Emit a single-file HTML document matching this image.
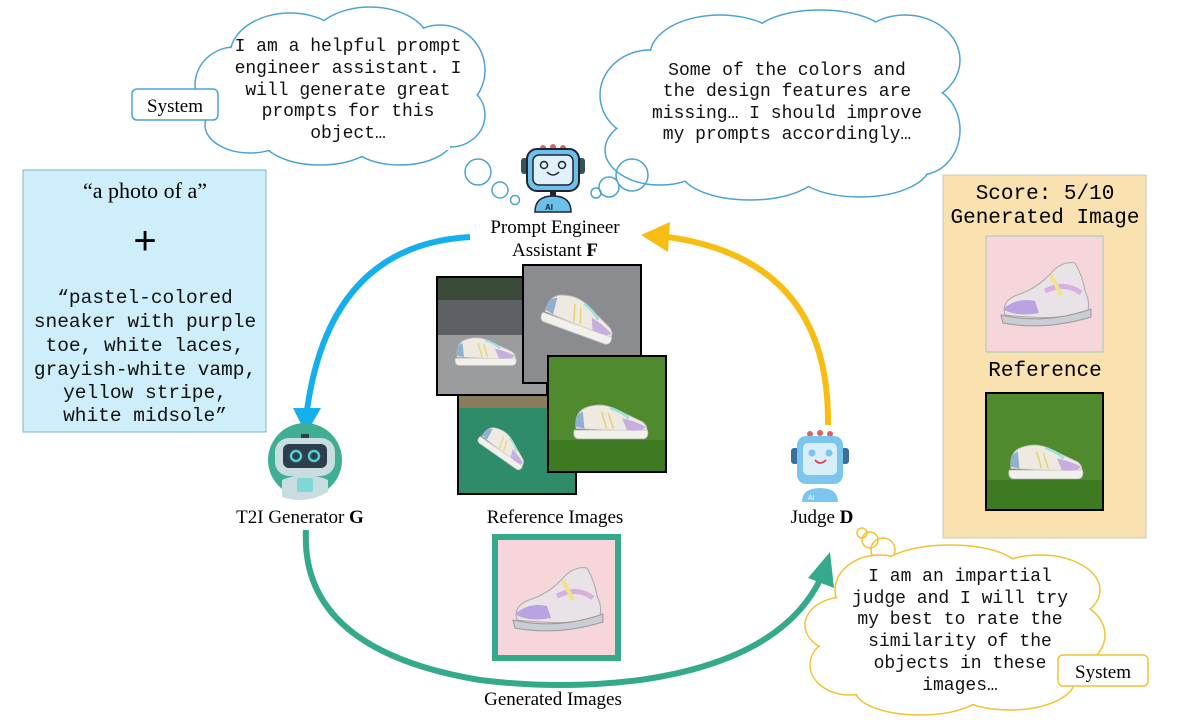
<!DOCTYPE html>
<html><head><meta charset="utf-8"><style>
html,body{margin:0;padding:0;background:#fff;width:1200px;height:720px;overflow:hidden}
.m{font-family:"Liberation Mono",monospace}
.s{font-family:"Liberation Serif",serif}
</style></head><body>
<svg width="1200" height="720" viewBox="0 0 1200 720" xmlns="http://www.w3.org/2000/svg">
<defs>
<g id="shoe">
 <path d="M-40,10 Q-42,-8 -30,-14 Q-10,-22 8,-12 Q25,-4 38,2 Q46,8 42,14 Z" fill="#eeeae2" stroke="#bbb" stroke-width="1"/>
 <path d="M-42,12 L44,12 Q46,20 40,22 L-38,22 Q-44,20 -42,12Z" fill="#f2f0ea" stroke="#ccc" stroke-width="1"/>
 <path d="M14,-2 Q32,2 42,8 Q40,14 20,12 Z" fill="#c7aee0"/>
 <path d="M-40,8 Q-42,-6 -32,-10 L-30,10Z" fill="#8fb0cf"/>
 <path d="M-10,-10 L-4,10 M-2,-8 L4,10" stroke="#e6d67a" stroke-width="2"/>
 <path d="M0,-14 Q14,-10 22,-2" stroke="#9fe0d8" stroke-width="3" fill="none"/>
</g>
<g id="gshoe">
 <path d="M-40,18 Q-44,4 -28,-2 Q-8,-8 8,-26 Q18,-36 30,-34 Q38,-20 40,-6 Q46,6 42,16 Q10,24 -40,18Z" fill="#e9e2e6" stroke="#aaa" stroke-width="1"/>
 <path d="M-42,12 Q-28,0 -10,4 L-6,16 Q-30,20 -42,12Z" fill="#b9a3e0"/>
 <path d="M-44,18 Q0,28 46,12 L46,20 Q0,34 -42,26Z" fill="#c9cdd4" stroke="#999" stroke-width="1"/>
 <path d="M0,-6 Q20,-16 36,-4" stroke="#d8b0e0" stroke-width="5" fill="none"/>
 <path d="M6,-22 L16,-2" stroke="#f2e28a" stroke-width="4"/>
</g>
</defs>

<!-- Cloud 1 -->
<g stroke="#4aa3d3" stroke-width="1.5" fill="#fff">
 <ellipse cx="235" cy="85" rx="40" ry="38"/><ellipse cx="290" cy="55" rx="60" ry="42"/><ellipse cx="370" cy="45" rx="60" ry="38"/>
 <ellipse cx="440" cy="70" rx="45" ry="45"/><ellipse cx="450" cy="115" rx="35" ry="32"/><ellipse cx="400" cy="135" rx="55" ry="30"/>
 <ellipse cx="320" cy="135" rx="60" ry="30"/><ellipse cx="250" cy="125" rx="45" ry="28"/>
</g>
<g fill="#fff"><ellipse cx="235" cy="85" rx="39" ry="37"/><ellipse cx="290" cy="55" rx="59" ry="41"/><ellipse cx="370" cy="45" rx="59" ry="37"/>
 <ellipse cx="440" cy="70" rx="44" ry="44"/><ellipse cx="450" cy="115" rx="34" ry="31"/><ellipse cx="400" cy="135" rx="54" ry="29"/>
 <ellipse cx="320" cy="135" rx="59" ry="29"/><ellipse cx="250" cy="125" rx="44" ry="27"/><rect x="240" y="60" width="210" height="90"/></g>
<g class="m" font-size="18" text-anchor="middle" fill="#111">
 <text x="348" y="51">I am a helpful prompt</text><text x="348" y="73">engineer assistant. I</text>
 <text x="348" y="95">will generate great</text><text x="348" y="116">prompts for this</text><text x="348" y="138">object…</text>
</g>
<rect x="132" y="89" width="86" height="31" rx="5" fill="#fff" stroke="#4aa3d3" stroke-width="1.5"/>
<text x="175" y="112" class="s" font-size="19" text-anchor="middle">System</text>

<!-- Cloud 2 -->
<g stroke="#4aa3d3" stroke-width="1.5" fill="#fff">
 <ellipse cx="650" cy="95" rx="50" ry="45"/><ellipse cx="720" cy="55" rx="70" ry="40"/><ellipse cx="820" cy="40" rx="70" ry="30"/>
 <ellipse cx="905" cy="60" rx="55" ry="45"/><ellipse cx="920" cy="130" rx="40" ry="45"/><ellipse cx="860" cy="165" rx="70" ry="32"/>
 <ellipse cx="750" cy="170" rx="70" ry="30"/><ellipse cx="660" cy="150" rx="55" ry="35"/>
</g>
<g fill="#fff">
 <ellipse cx="650" cy="95" rx="49" ry="44"/><ellipse cx="720" cy="55" rx="69" ry="39"/><ellipse cx="820" cy="40" rx="69" ry="29"/>
 <ellipse cx="905" cy="60" rx="54" ry="44"/><ellipse cx="920" cy="130" rx="39" ry="44"/><ellipse cx="860" cy="165" rx="69" ry="31"/>
 <ellipse cx="750" cy="170" rx="69" ry="29"/><ellipse cx="660" cy="150" rx="54" ry="34"/><rect x="650" y="60" width="270" height="110"/>
</g>
<g class="m" font-size="18" text-anchor="middle" fill="#111">
 <text x="787" y="75">Some of the colors and</text><text x="787" y="96">the design features are</text>
 <text x="787" y="118">missing… I should improve</text><text x="787" y="139">my prompts accordingly…</text>
</g>
<g stroke="#4aa3d3" stroke-width="1.5" fill="none">
 <circle cx="478" cy="172" r="13"/><circle cx="500" cy="190" r="8"/><circle cx="515" cy="200" r="4.5"/>
 <circle cx="632" cy="175" r="16"/><circle cx="609" cy="187" r="10"/><circle cx="596" cy="193" r="5"/>
</g>

<!-- Robot F -->
<g>
 <circle cx="543" cy="148" r="3" fill="#e06060"/><circle cx="553" cy="147" r="3" fill="#e06060"/><circle cx="563" cy="148" r="3" fill="#e06060"/>
 <rect x="521" y="158" width="8" height="16" rx="3" fill="#355"/><rect x="577" y="158" width="8" height="16" rx="3" fill="#355"/>
 <rect x="527" y="149" width="52" height="42" rx="10" fill="#6cc1ea" stroke="#223" stroke-width="2"/>
 <rect x="533" y="155" width="40" height="30" rx="6" fill="#dff2fb" stroke="#223" stroke-width="1.5"/>
 <circle cx="544" cy="165" r="3.5" fill="none" stroke="#223" stroke-width="1.5"/><circle cx="562" cy="165" r="3.5" fill="none" stroke="#223" stroke-width="1.5"/>
 <path d="M547,172 Q553,178 559,172" stroke="#223" stroke-width="1.5" fill="none"/>
 <rect x="550" y="191" width="6" height="5" fill="#223"/>
 <path d="M535,212 Q535,196 553,196 Q571,196 571,212Z" fill="#6cc1ea" stroke="#223" stroke-width="1.5"/>
 <text x="545" y="210" font-family="Liberation Sans,sans-serif" font-size="8" font-weight="bold" fill="#223">AI</text>
</g>
<text x="555" y="233" class="s" font-size="19" text-anchor="middle">Prompt Engineer</text>
<text x="555" y="256" class="s" font-size="19" text-anchor="middle">Assistant <tspan font-weight="bold">F</tspan></text>

<!-- Blue prompt box -->
<rect x="23" y="170" width="243" height="262" fill="#cdeefa" stroke="#7fb6cc" stroke-width="1"/>
<text x="145" y="198" class="s" font-size="22" text-anchor="middle">“a photo of a”</text>
<text x="145" y="254" font-family="Liberation Sans,sans-serif" font-size="40" text-anchor="middle">+</text>
<g class="m" font-size="19.5" text-anchor="middle" fill="#111">
 <text x="145" y="303">“pastel-colored</text><text x="145" y="327">sneaker with purple</text>
 <text x="145" y="351">toe, white laces,</text><text x="145" y="375">grayish-white vamp,</text>
 <text x="145" y="398">yellow stripe,</text><text x="145" y="421">white midsole”</text>
</g>

<!-- Arrows -->
<path d="M470,237 Q330,245 307,410" stroke="#15b0ec" stroke-width="6" fill="none"/>
<path d="M293,408 L321,408 L306,434Z" fill="#15b0ec"/>
<path d="M828,425 Q830,260 668,237" stroke="#f8bd12" stroke-width="6" fill="none"/>
<path d="M670,222 L668,252 L641,235Z" fill="#f8bd12"/>
<path d="M306,530 Q300,650 480,680 Q560,690 640,680 Q780,660 820,580" stroke="#34a98b" stroke-width="6" fill="none"/>
<path d="M808,578 L834,588 L830,552Z" fill="#34a98b"/>

<!-- Reference photos -->
<rect x="437" y="277" width="110" height="118" fill="#9a9c9e" stroke="#000" stroke-width="2"/>
<rect x="438" y="278" width="108" height="22" fill="#3c4a3a"/>
<rect x="438" y="300" width="108" height="35" fill="#5d6166"/>
<use href="#shoe" transform="translate(485,350) scale(0.7)"/>
<rect x="523" y="265" width="118" height="118" fill="#8a8c8f" stroke="#000" stroke-width="2"/>
<use href="#shoe" transform="translate(580,315) rotate(20) scale(0.85)"/>
<rect x="458" y="395" width="118" height="99" fill="#2e8c6a" stroke="#000" stroke-width="2"/>
<rect x="459" y="396" width="116" height="12" fill="#8a7c5a"/>
<use href="#shoe" transform="translate(505,445) rotate(35) scale(0.6)"/>
<rect x="548" y="356" width="118" height="116" fill="#4f8a2e" stroke="#000" stroke-width="2"/>
<rect x="549" y="440" width="116" height="31" fill="#3d7a22"/>
<use href="#shoe" transform="translate(610,420) scale(0.85)"/>
<text x="555" y="523" class="s" font-size="19" text-anchor="middle">Reference Images</text>

<!-- Generated -->
<rect x="495" y="537" width="123" height="121" fill="#f6d6da" stroke="#34a98b" stroke-width="6"/>
<use href="#gshoe" transform="translate(557,602)"/>
<text x="553" y="705" class="s" font-size="19" text-anchor="middle">Generated Images</text>

<!-- Robot G -->
<circle cx="305" cy="460" r="37" fill="#3fae92"/>
<path d="M282,497 L282,480 Q305,470 328,480 L328,492 Q305,505 282,497Z" fill="#c9dde0"/>
<rect x="297" y="478" width="16" height="14" rx="2" fill="#7fd8d8"/>
<rect x="301" y="434" width="8" height="6" fill="#2f3d4d"/>
<rect x="275" y="438" width="60" height="38" rx="14" fill="#c9dde0"/>
<rect x="283" y="444" width="44" height="24" rx="6" fill="#2f3d4d"/>
<circle cx="296" cy="456" r="5" fill="none" stroke="#4fd0d0" stroke-width="2.5"/><circle cx="314" cy="456" r="5" fill="none" stroke="#4fd0d0" stroke-width="2.5"/>
<text x="300" y="523" class="s" font-size="19" text-anchor="middle">T2I Generator <tspan font-weight="bold">G</tspan></text>

<!-- Robot D -->
<g>
 <circle cx="810" cy="434" r="3" fill="#e06060"/><circle cx="820" cy="433" r="3" fill="#e06060"/><circle cx="830" cy="434" r="3" fill="#e06060"/>
 <rect x="791" y="448" width="8" height="16" rx="3" fill="#3a6e9c"/><rect x="841" y="448" width="8" height="16" rx="3" fill="#3a6e9c"/>
 <rect x="797" y="436" width="46" height="48" rx="9" fill="#7cc6ee"/>
 <rect x="803" y="443" width="34" height="32" rx="5" fill="#d8eef9"/>
 <circle cx="812" cy="453" r="3.5" fill="#7cc6ee"/><circle cx="829" cy="453" r="3.5" fill="#7cc6ee"/>
 <path d="M815,460 Q820,466 826,460" stroke="#e04050" stroke-width="1.8" fill="none"/>
 <path d="M802,502 Q802,488 820,488 Q838,488 838,502Z" fill="#7cc6ee"/>
 <text x="808" y="500" font-family="Liberation Sans,sans-serif" font-size="7" fill="#fff">AI</text>
</g>
<text x="822" y="523" class="s" font-size="19" text-anchor="middle">Judge <tspan font-weight="bold">D</tspan></text>

<!-- Right panel -->
<rect x="943" y="175" width="203" height="363" fill="#fae1b0" stroke="#c8c8c0" stroke-width="1"/>
<text x="1045" y="199" class="m" font-size="21" text-anchor="middle">Score: 5/10</text>
<text x="1045" y="223" class="m" font-size="21" text-anchor="middle">Generated Image</text>
<rect x="986" y="236" width="117" height="116" fill="#f6d6da" stroke="#9cb" stroke-width="1"/>
<use href="#gshoe" transform="translate(1045,297)"/>
<text x="1045" y="376" class="m" font-size="21" text-anchor="middle">Reference</text>
<rect x="986" y="393" width="117" height="117" fill="#4f8a2e" stroke="#000" stroke-width="2"/>
<rect x="987" y="480" width="115" height="29" fill="#3d7a22"/>
<use href="#shoe" transform="translate(1045,460) scale(0.85)"/>

<!-- Yellow cloud -->
<g stroke="#f2c230" stroke-width="1.5" fill="none">
 <circle cx="862" cy="533" r="5"/><circle cx="870" cy="540" r="8"/><circle cx="883" cy="550" r="12"/>
</g>
<g stroke="#f2c230" stroke-width="1.5" fill="#fff">
 <ellipse cx="880" cy="590" rx="45" ry="35"/><ellipse cx="950" cy="570" rx="70" ry="25"/><ellipse cx="1040" cy="590" rx="60" ry="35"/>
 <ellipse cx="1060" cy="635" rx="45" ry="35"/><ellipse cx="1010" cy="680" rx="65" ry="30"/><ellipse cx="920" cy="690" rx="65" ry="25"/>
 <ellipse cx="850" cy="665" rx="40" ry="30"/><ellipse cx="845" cy="625" rx="40" ry="28"/>
</g>
<g fill="#fff">
 <ellipse cx="880" cy="590" rx="44" ry="34"/><ellipse cx="950" cy="570" rx="69" ry="24"/><ellipse cx="1040" cy="590" rx="59" ry="34"/>
 <ellipse cx="1060" cy="635" rx="44" ry="34"/><ellipse cx="1010" cy="680" rx="64" ry="29"/><ellipse cx="920" cy="690" rx="64" ry="24"/>
 <ellipse cx="850" cy="665" rx="39" ry="29"/><ellipse cx="845" cy="625" rx="39" ry="27"/><rect x="850" y="580" width="210" height="100"/>
</g>
<g class="m" font-size="18" text-anchor="middle" fill="#111">
 <text x="960" y="581">I am an impartial</text><text x="960" y="603">judge and I will try</text>
 <text x="960" y="624">my best to rate the</text><text x="960" y="646">similarity of the</text>
 <text x="960" y="668">objects in these</text><text x="960" y="690">images…</text>
</g>
<rect x="1058" y="655" width="90" height="31" rx="5" fill="#fff" stroke="#f2c230" stroke-width="1.5"/>
<text x="1103" y="678" class="s" font-size="19" text-anchor="middle">System</text>
</svg>
</body></html>
